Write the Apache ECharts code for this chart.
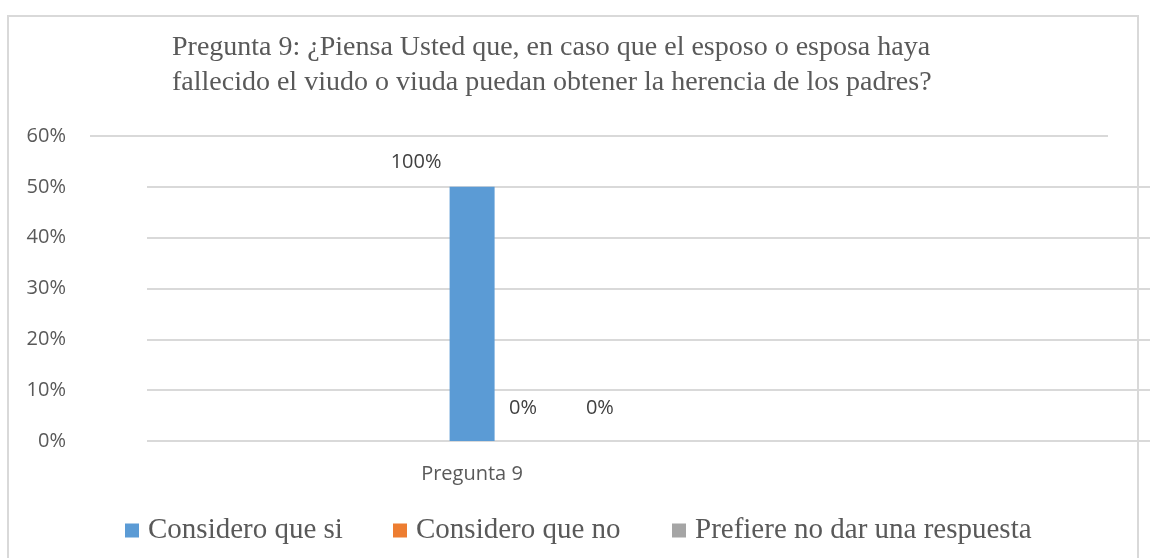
<!DOCTYPE html>
<html>
<head>
<meta charset="utf-8">
<script src="https://cdn.jsdelivr.net/npm/echarts@6/dist/echarts.min.js"></script>
<style>
  html, body { margin: 0; padding: 0; background: #fff; }
  #chart { width: 1150px; height: 558px; }
</style>
</head>
<body>
<div id="chart"></div>
<script>
// datos de la gráfica
const categories = ['Pregunta 9']
const seriesNames = ['Considero que si', 'Considero que no', 'Prefiere no dar una respuesta']
const barValues = [0.5, 0, 0]          // altura de cada barra
const barLabels = ['100%', '0%', '0%'] // etiquetas tal como aparecen
const yTicks = [0, 0.1, 0.2, 0.3, 0.4, 0.5, 0.6]

const colors = ['#5b9bd5', '#ed7d31', '#a5a5a5']
const serif = "'Liberation Serif', 'Times New Roman', serif"
const sans = "'Open Sans', Lato, sans-serif"
const pct = v => Math.round(v * 100) + '%'

// desplazamientos de las etiquetas, como en la imagen
const labelOffsets = [[-56, -10], [-13, -18], [0, -18]]

const chart = echarts.init(document.getElementById('chart'))

chart.setOption({
  animation: false,
  color: colors,
  title: {
    text: 'Pregunta 9: ¿Piensa Usted que, en caso que el esposo o esposa haya\nfallecido el viudo o viuda puedan obtener la herencia de los padres?',
    left: 167,
    top: 25,
    textStyle: { fontFamily: serif, fontSize: 28, fontWeight: 'normal', color: '#595959', lineHeight: 35 }
  },
  graphic: [{
    type: 'rect',
    z: -10,
    shape: { x: 8, y: 16, width: 1130, height: 560 },
    style: { fill: 'none', stroke: '#d9d9d9', lineWidth: 2 }
  }],
  legend: seriesNames.map((n, i) => ({
    data: [n],
    left: [120, 388, 667][i],
    top: 511,
    icon: 'rect',
    itemWidth: 14,
    itemHeight: 14,
    textStyle: { fontFamily: serif, fontSize: 29, color: '#595959', padding: [0, 0, 0, 4] }
  })),
  grid: [
    // líneas de 0% a 50%
    { left: 147, right: 0, top: 136, bottom: 117 },
    // línea superior de 60%
    { left: 90, right: 42, top: 136, bottom: 117 },
    // barras
    { left: 147, width: 778, top: 136, bottom: 117 }
  ],
  xAxis: [
    { gridIndex: 0, type: 'category', data: categories, show: false },
    { gridIndex: 1, type: 'category', data: categories, show: false },
    {
      gridIndex: 2,
      type: 'category',
      data: categories,
      axisLine: { show: false },
      axisTick: { show: false },
      axisLabel: { margin: 23, fontFamily: sans, fontSize: 20, color: '#595959', padding: [0, 128, 0, 0] }
    }
  ],
  yAxis: [
    {
      gridIndex: 0,
      type: 'value',
      min: yTicks[0],
      max: yTicks[yTicks.length - 1],
      interval: 0.1,
      axisLine: { show: false },
      axisTick: { show: false },
      axisLabel: { margin: 81, fontFamily: sans, fontSize: 20, color: '#595959', formatter: pct },
      splitLine: { showMaxLine: false, lineStyle: { color: '#d9d9d9', width: 2 } }
    },
    {
      gridIndex: 1,
      type: 'value',
      min: 0,
      max: 0.6,
      interval: 0.6,
      axisLine: { show: false },
      axisTick: { show: false },
      axisLabel: { show: false },
      splitLine: { showMinLine: false, lineStyle: { color: '#d9d9d9', width: 2 } }
    },
    { gridIndex: 2, type: 'value', min: 0, max: 0.6, show: false, splitLine: { show: false } }
  ],
  series: seriesNames.map((n, i) => ({
    name: n,
    type: 'bar',
    xAxisIndex: 2,
    yAxisIndex: 2,
    barWidth: 45,
    barGap: '42%',
    data: [barValues[i]],
    label: {
      show: true,
      position: 'top',
      offset: labelOffsets[i],
      formatter: () => barLabels[i],
      fontFamily: sans,
      fontSize: 20,
      color: '#404040'
    }
  }))
})
</script>
</body>
</html>
